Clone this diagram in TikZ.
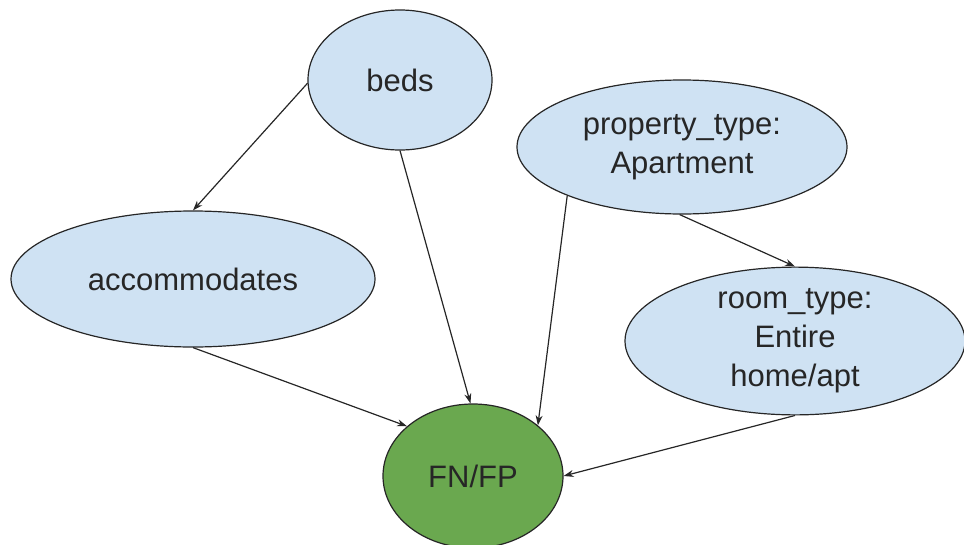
\documentclass[tikz,border=0pt]{standalone}
\usepackage{fontspec}
\setmainfont{Liberation Sans}
\usepackage{tikz}
\usetikzlibrary{shapes.geometric}
\usetikzlibrary{arrows.meta}

\definecolor{featblue}{HTML}{CFE2F3}
\definecolor{errgreen}{HTML}{6AA84F}

\begin{document}
\begin{tikzpicture}
		[
		x=1pt, y=-1pt,
		font=\fontsize{31}{39}\selectfont,
		line width=1.2pt
		]
		
		% Two node styles: feature and outcome
		\tikzstyle{feature node}=[ellipse,draw=black!85,fill=featblue,inner sep=0,align=center,text=black!85];
		\tikzstyle{outcome node}=[ellipse,draw=black!85,fill=errgreen,inner sep=0,align=center,text=black!85];
		\tikzstyle{arrow}=[draw=black!85,-{Stealth[length=10pt,width=7pt]}];
		
		% Fix the margins
		\useasboundingbox (0,0) rectangle (964,544);
		
		% The features
		\node(beds)[feature node, minimum width=184, minimum height=140]at(400,80){beds};
		\node(prop)[feature node, minimum width=330, minimum height=134]at(682,147){property\_type:\\Apartment};
		\node(accom)[feature node, minimum width=364, minimum height=136]at(193,279){accommodates};
		\node(room)[feature node, minimum width=340, minimum height=138]at(795,341){room\_type:\\Entire\\home/apt};
		
		% The outcome
		\node(fnfp)[outcome node, minimum width=180, minimum height=144]at(473,476){FN/FP};
		
		% Edges
		\draw[arrow](beds.182)--(accom.north);
		\draw[arrow](beds.south)--(fnfp.92);
		\draw[arrow](prop.203)--(fnfp.38);
		\draw[arrow](prop.268)--(room.north);
		\draw[arrow](accom.south)--(fnfp.143);
		\draw[arrow](room.south)--(fnfp.east);
		\end{tikzpicture}
\end{document}
